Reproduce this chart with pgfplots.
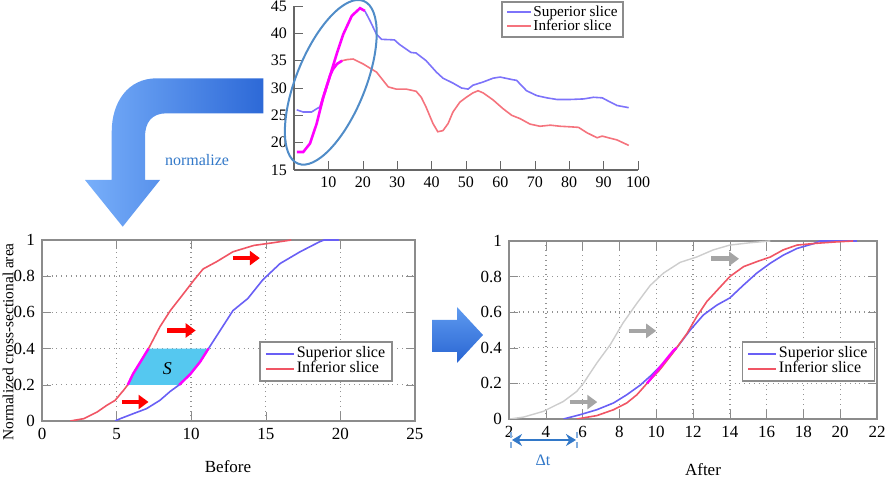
\documentclass[border=0pt]{standalone}
\usepackage{fontspec}
\setmainfont{Liberation Serif}
\usepackage{pgfplots}
\pgfplotsset{compat=1.18}
\usetikzlibrary{arrows.meta}
\definecolor{supblue}{RGB}{105,95,245}
\definecolor{infred}{RGB}{240,85,100}
\definecolor{tsupblue}{RGB}{125,115,250}
\definecolor{tinfred}{RGB}{245,115,125}
\definecolor{mag}{RGB}{255,0,255}
\definecolor{scyan}{RGB}{85,200,240}
\definecolor{textblue}{RGB}{50,120,200}
\definecolor{ellblue}{RGB}{80,140,200}
\definecolor{lgray}{RGB}{205,205,205}
\definecolor{agray}{RGB}{165,165,165}
\definecolor{frame}{RGB}{140,140,140}
\pgfplotsset{
  lowplot/.style={
    scale only axis, anchor=south west,
    ymin=0, ymax=1, ytick={0,0.2,...,1},
    grid=major, grid style={dotted, gray!85, line width=0.7pt},
    axis line style={frame, line width=0.8pt},
    tick style={frame}, tick align=inside,
    ticklabel style={font=\fontsize{8.5}{9}\selectfont},
    /pgf/number format/assume math mode=true,
    legend style={draw=frame, line width=0.8pt, fill=white,
      font=\fontsize{8}{8.5}\selectfont, inner xsep=2.5pt, inner ysep=1.5pt,
      nodes={inner sep=1pt}, row sep=-1.6pt,
      legend cell align=left, anchor=north east},
    legend image code/.code={\draw[##1, line width=0.8pt] (0pt,0pt) -- (14pt,0pt);},
  },
}
\begin{document}
\begin{tikzpicture}
\path[use as bounding box] (0,0) rectangle (442.5pt,241pt);

% ---------- top chart ----------
\begin{axis}[
  at={(147pt,156pt)}, anchor=south west, scale only axis,
  width=172pt, height=82pt,
  xmin=0, xmax=100, ymin=15, ymax=45,
  xtick={10,20,...,100}, ytick={15,20,...,45},
  axis x line*=bottom, axis y line*=left,
  axis line style={-, gray!80!black, line width=0.6pt},
  tick style={gray!80!black}, tick align=inside,
  ticklabel style={font=\fontsize{8}{9}\selectfont},
  /pgf/number format/assume math mode=true,
  legend style={at={(0.959,1.03)}, anchor=north east, draw=frame, line width=0.8pt,
    fill=white, font=\fontsize{7.6}{8}\selectfont, inner xsep=2pt, inner ysep=1pt,
    nodes={inner sep=0.8pt}, row sep=-1.4pt,
    legend cell align=left},
  legend image code/.code={\draw[#1, line width=0.8pt] (0pt,0pt) -- (12pt,0pt);},
]
\addlegendimage{tsupblue}\addlegendentry{Superior slice}
\addlegendimage{tinfred}\addlegendentry{Inferior slice}
\addplot[tsupblue, line width=0.8pt, forget plot] coordinates {
 (0.8,26.0) (2.7,25.6) (5.1,25.6) (6.6,26.2) (7.7,26.6)};
\addplot[tsupblue, line width=0.8pt, forget plot] coordinates {
 (20.6,44.1) (22.1,42.3) (24,39.8) (25.5,38.9) (29.2,38.8) (30.6,38) (34,36.5)
 (35.5,36.4) (38.4,35) (41.4,32.9) (43.3,31.8) (46.2,30.9) (48.7,30) (50.6,29.8)
 (52,30.5) (55,31.1) (57.9,31.8) (59.9,32) (63.7,31.5) (64.7,31.4) (67.6,29.5)
 (70.6,28.6) (73.5,28.2) (76.4,27.9) (80.3,27.9) (84.2,28) (87.1,28.3) (89.6,28.2)
 (92,27.4) (93.9,26.8) (97.3,26.4)};
\addplot[tinfred, line width=0.8pt, forget plot] coordinates {
 (14,35) (15.5,35.2) (17.2,35.3) (20.1,34.4) (24,32.9) (27.4,30.2) (29.7,29.8) (32.6,29.8)
 (35.5,29.4) (37,28.3) (38.4,26.5) (40.4,23.5) (41.8,22) (43.3,22.2) (44.8,23.5)
 (46.2,25.6) (48.2,27.4) (50.1,28.3) (52,29.1) (53.5,29.5) (55,29.1) (57.9,27.8)
 (60.8,26.2) (63.3,25) (65.7,24.4) (68.6,23.4) (71.5,23) (74.5,23.2) (77.4,23)
 (80.3,22.9) (82.7,22.8) (85.2,21.8) (88.1,20.9) (89.6,21.2) (92,20.8) (93.9,20.5)
 (97.3,19.5)};
\addplot[mag, line width=1.3pt, forget plot] coordinates {
 (0.8,18.3) (2.7,18.3) (4.65,19.85) (6.6,23.5) (8.5,28.3) (10.5,32.3) (11.3,33.4)
 (12.5,34.4) (14,35)};
\addplot[mag, line width=1.3pt, forget plot] coordinates {
 (7.7,26.6) (8.5,28.3) (10.5,32.3) (12.4,36.2) (14.3,39.8) (16.8,43.2) (19.2,44.6)
 (20.6,44.1)};
\end{axis}

% ---------- bottom-left (Before) ----------
\begin{axis}[lowplot,
  at={(21pt,30.5pt)}, width=186.5pt, height=90.5pt,
  xmin=0, xmax=25, xtick={0,5,...,25},
  legend style={at={(0.941,0.442)}},
]
\addplot[fill=scyan, draw=none, forget plot] coordinates {
 (5.75,0.2) (6.1,0.26) (6.6,0.327) (7.14,0.4) (11.16,0.4) (10.6,0.327) (9.93,0.258) (9.2,0.2)} -- cycle;
\addlegendimage{supblue}\addlegendentry{Superior slice}
\addlegendimage{infred}\addlegendentry{Inferior slice}
\addplot[supblue, line width=0.8pt, forget plot] coordinates {
 (4.9,0) (5.25,0.013) (6.1,0.04) (7.0,0.068) (7.9,0.114) (8.6,0.164) (9.2,0.2)
 (9.93,0.258) (10.6,0.327) (11.16,0.4) (11.94,0.5) (12.8,0.61) (13.8,0.677)
 (14.8,0.78) (15.96,0.87) (17.3,0.935) (18.6,0.99) (18.9,1) (19.9,1)};
\addplot[infred, line width=0.8pt, forget plot] coordinates {
 (1.9,0) (2.8,0.013) (3.7,0.05) (4.35,0.087) (4.9,0.114) (5.47,0.17) (5.75,0.2)
 (6.1,0.26) (6.6,0.327) (7.14,0.4) (7.9,0.52) (8.6,0.61) (9.5,0.705) (10.2,0.78)
 (10.8,0.84) (11.7,0.88) (12.8,0.935) (14.2,0.97) (15.5,0.985) (16.7,1)};
\addplot[mag, line width=1.2pt, forget plot] coordinates {
 (5.75,0.2) (6.1,0.26) (6.6,0.327) (7.14,0.4)};
\addplot[mag, line width=1.2pt, forget plot] coordinates {
 (9.2,0.2) (9.93,0.258) (10.6,0.327) (11.16,0.4)};
\node[font=\fontsize{9}{9}\selectfont\itshape] at (axis cs:8.4,0.29) {S};
\draw[red, line width=2.3pt, -{Triangle[length=5pt,width=7pt]}] (axis cs:5.36,0.105) -- (axis cs:7.14,0.105);
\draw[red, line width=2.3pt, -{Triangle[length=5pt,width=7pt]}] (axis cs:8.4,0.5) -- (axis cs:10.3,0.5);
\draw[red, line width=2.3pt, -{Triangle[length=5pt,width=7pt]}] (axis cs:12.8,0.9) -- (axis cs:14.6,0.9);
\end{axis}

% ---------- bottom-right (After) ----------
\begin{axis}[lowplot,
  at={(254.5pt,31.5pt)}, width=184pt, height=89pt,
  xmin=2, xmax=22, xtick={2,4,...,22},
  legend style={at={(0.995,0.438)}},
]
\addlegendimage{supblue}\addlegendentry{Superior slice}
\addlegendimage{infred}\addlegendentry{Inferior slice}
\addplot[lgray, line width=0.7pt, forget plot] coordinates {
 (2.05,0) (2.8,0.011) (3.87,0.043) (4.96,0.099) (5.68,0.155) (6.04,0.2) (6.77,0.314)
 (7.5,0.417) (8.2,0.54) (8.95,0.65) (9.67,0.75) (10.4,0.82) (11.3,0.88) (12.2,0.91)
 (13.1,0.95) (14,0.977) (15.1,0.99) (16.2,1)};
\addplot[supblue, line width=0.8pt, forget plot] coordinates {
 (4.96,0) (5.86,0.024) (6.77,0.052) (7.68,0.09) (8.4,0.136) (9.13,0.19) (9.67,0.24)
 (10.4,0.314) (11.1,0.398) (11.85,0.5) (12.57,0.585) (13.3,0.64) (14.0,0.68)
 (14.75,0.753) (15.47,0.82) (16.2,0.875) (16.9,0.92) (17.65,0.958) (18.55,0.985)
 (18.9,1) (20.9,1)};
\addplot[infred, line width=0.8pt, forget plot] coordinates {
 (5.68,0) (6.77,0.019) (7.68,0.052) (8.4,0.09) (8.95,0.136) (9.5,0.2) (10.2,0.277)
 (10.9,0.37) (11.67,0.48) (12.2,0.575) (12.75,0.66) (13.5,0.744) (14.0,0.8)
 (14.75,0.856) (15.47,0.884) (16.2,0.91) (16.9,0.95) (17.65,0.977) (18.7,0.987)
 (19.8,0.995) (20.7,1)};
\addplot[mag, line width=1.2pt, forget plot] coordinates {
 (9.5,0.2) (10.2,0.29) (10.9,0.38) (11.1,0.4)};
\draw[agray, line width=2.3pt, -{Triangle[length=5pt,width=7pt]}] (axis cs:5.3,0.095) -- (axis cs:6.8,0.095);
\draw[agray, line width=2.3pt, -{Triangle[length=5pt,width=7pt]}] (axis cs:8.5,0.495) -- (axis cs:10.0,0.495);
\draw[agray, line width=2.3pt, -{Triangle[length=5pt,width=7pt]}] (axis cs:13.0,0.9) -- (axis cs:14.5,0.9);
\end{axis}

% ---------- decorations (pixel units) ----------
\begin{scope}[x=0.5pt, y=0.5pt]
\draw[ellblue, line width=1pt, rotate around={68:(330.8,399.7)}] (330.8,399.7) ellipse [x radius=43.85pt, y radius=17.3pt];
\shade[left color={rgb,255:red,120;green,175;blue,250}, right color={rgb,255:red,45;green,105;blue,215}]
  (263.3,403.7) -- (156.7,403.7) .. controls (128,403.7) and (111.7,380) .. (111.7,350)
  -- (111.7,302) -- (85,302) -- (122.7,255.3) -- (160,302) -- (145,302) -- (145,345)
  .. controls (145,360) and (152,368.7) .. (166.7,368.7) -- (263.3,368.7) -- cycle;
\node[textblue, font=\fontsize{8}{9}\selectfont] at (197,322) {normalize};
\shade[top color={rgb,255:red,95;green,155;blue,240}, bottom color={rgb,255:red,40;green,100;blue,210}]
  (432,162) -- (457,162) -- (457,175) -- (483,147) -- (457,119) -- (457,130) -- (432,130) -- cycle;
\draw[textblue, line width=1.3pt, {Stealth[length=5pt,width=6pt]}-{Stealth[length=5pt,width=6pt]}] (512,42) -- (576,42);
\draw[textblue!60, line width=1pt, densely dashed] (511,34) -- (511,50);
\draw[textblue!60, line width=1pt, densely dashed] (577,34) -- (577,50);
\node[textblue, font=\fontsize{8}{9}\selectfont] at (543,22) {Δt};
\node[rotate=90, font=\fontsize{7.7}{8}\selectfont] at (8,140) {Normalized cross-sectional area};
\node[font=\fontsize{8.5}{9}\selectfont] at (228,15) {Before};
\node[font=\fontsize{8.5}{9}\selectfont] at (703,12) {After};
\end{scope}
\end{tikzpicture}
\end{document}
